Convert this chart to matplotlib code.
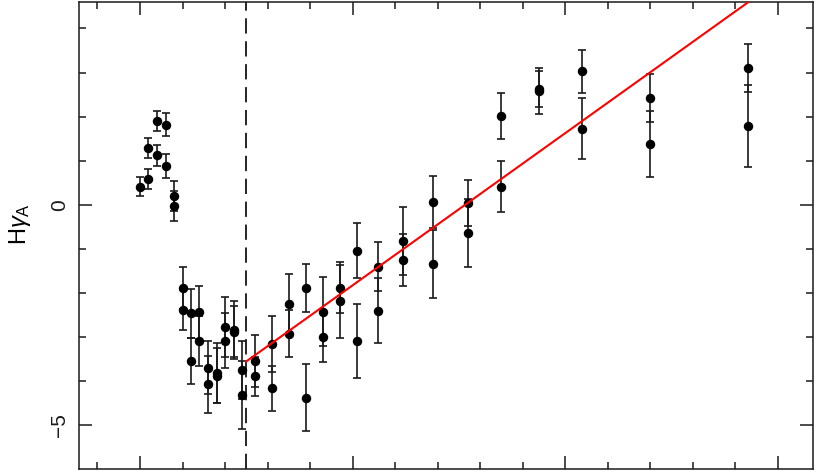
"""Hgamma_A index versus x with break line and linear fit above the break."""

from __future__ import annotations

import matplotlib
matplotlib.use("Agg")
import matplotlib.pyplot as plt
from matplotlib.ticker import MultipleLocator
import numpy as np

x_vals = [1.000, 1.039, 1.039, 1.080, 1.080, 1.121, 1.121, 1.161, 1.161,
          1.201, 1.201, 1.240, 1.240, 1.279, 1.279, 1.320, 1.320, 1.361, 1.361,
          1.401, 1.401, 1.441, 1.441, 1.481, 1.481, 1.543, 1.543, 1.621, 1.621,
          1.699, 1.699, 1.781, 1.781, 1.861, 1.861, 1.941, 1.941, 2.021, 2.021,
          2.121, 2.121, 2.238, 2.238, 2.380, 2.380, 2.541, 2.541, 2.700, 2.700,
          2.878, 2.878, 3.079, 3.079, 3.400, 3.400, 3.860, 3.860]
hg_vals = [0.41, 0.59, 1.29, 1.90, 1.12, 1.82, 0.88, 0.19, -0.02,
           -1.89, -2.39, -2.46, -3.54, -2.44, -3.08, -3.69, -4.07, -3.82, -3.87,
           -2.76, -3.08, -2.83, -2.88, -3.74, -4.32, -3.54, -3.89, -3.16, -4.16,
           -2.25, -2.92, -1.88, -4.37, -2.42, -3.00, -1.88, -2.19, -1.04, -3.08,
           -1.40, -2.40, -0.82, -1.24, 0.07, -1.34, 0.04, -0.64, 2.02, 0.41,
           2.62, 2.59, 3.03, 1.73, 2.42, 1.38, 3.10, 1.78]
hg_errs = [0.22, 0.22, 0.22, 0.23, 0.23, 0.27, 0.27, 0.34, 0.34,
           0.48, 0.45, 0.55, 0.53, 0.61, 0.57, 0.61, 0.64, 0.68, 0.62,
           0.68, 0.63, 0.66, 0.58, 0.66, 0.77, 0.59, 0.45, 0.64, 0.51,
           0.69, 0.54, 0.54, 0.76, 0.78, 0.57, 0.58, 0.82, 0.62, 0.84,
           0.55, 0.73, 0.76, 0.59, 0.59, 0.77, 0.53, 0.77, 0.52, 0.58,
           0.41, 0.52, 0.49, 0.70, 0.54, 0.75, 0.54, 0.93]

# Break position and fit above it
x_break = 1.5
fit_intercept = -3.55   # value at x_break
fit_slope = 3.45

XLIM = (0.713, 4.166)
YLIM = (-5.99, 4.60)

plt.rcParams["font.family"] = ["Liberation Sans", "DejaVu Sans"]
plt.rcParams["mathtext.fontset"] = "custom"
plt.rcParams["mathtext.rm"] = "Liberation Sans"
plt.rcParams["mathtext.it"] = "Liberation Sans:italic"
plt.rcParams["lines.scale_dashes"] = False

fig = plt.figure(figsize=(8.17, 4.72), dpi=100)
ax = fig.add_axes([79 / 817, 3 / 472, (813 - 79) / 817, (469 - 2) / 472])

ax.errorbar(x_vals, hg_vals, yerr=hg_errs, fmt="o", color="black",
            ecolor="#1a1a1a", markersize=5.8, elinewidth=1.2, capsize=2.6,
            capthick=1.2, zorder=3)

ax.axvline(x_break, color="black", linewidth=1.2, dashes=(11, 5.5), zorder=2)

xf = np.array([x_break, XLIM[1]])
ax.plot(xf, fit_intercept + fit_slope * (xf - x_break), color="#ff0000",
        linewidth=1.5, zorder=4)

ax.set_xlim(*XLIM)
ax.set_ylim(*YLIM)
ax.xaxis.set_major_locator(MultipleLocator(1.0))
ax.xaxis.set_minor_locator(MultipleLocator(0.2))
ax.yaxis.set_major_locator(MultipleLocator(5))
ax.yaxis.set_minor_locator(MultipleLocator(1))
ax.tick_params(which="both", direction="in", top=True, right=True,
               width=1.1, colors="#1a1a1a")
ax.tick_params(which="major", length=9.5)
ax.tick_params(which="minor", length=5)
ax.tick_params(axis="x", labelbottom=False)
ax.tick_params(axis="y", which="major", labelsize=15, pad=7)
ax.set_yticks([-5, 0], ["\u22125", "0"])
for lab in ax.get_yticklabels():
    lab.set_rotation(90)
    lab.set_va("center")

for sp in ax.spines.values():
    sp.set_linewidth(1.1)
    sp.set_color("#1a1a1a")

ax.set_ylabel(r"H$\gamma_{\rm A}$", fontsize=17)
ax.yaxis.set_label_coords(-0.062, 0.525)

fig.savefig("out.png", dpi=100)
